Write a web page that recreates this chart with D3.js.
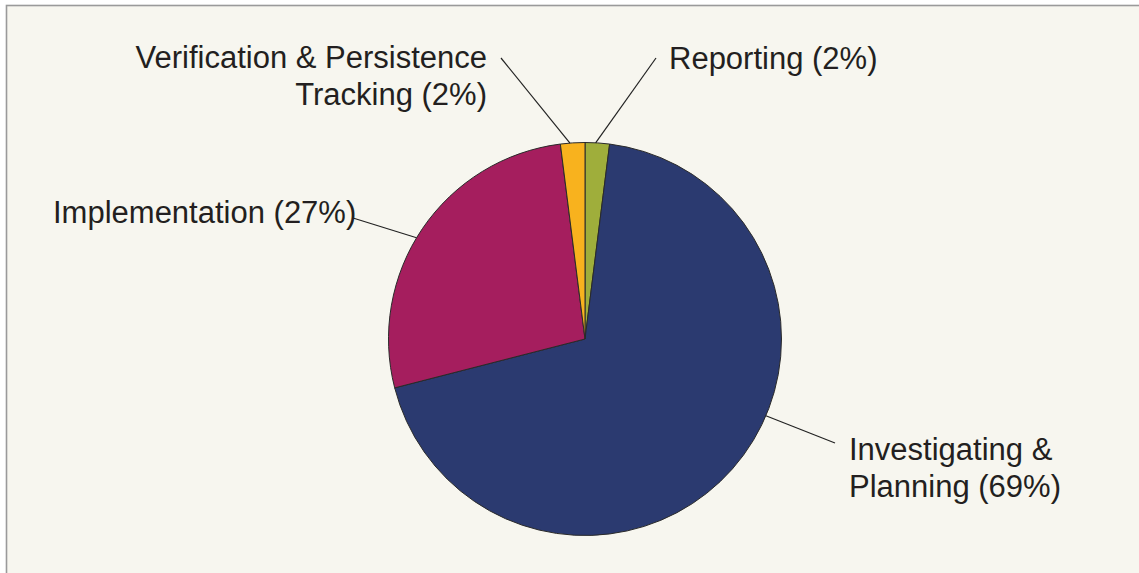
<!DOCTYPE html>
<html>
<head>
<meta charset="utf-8">
<script src="https://cdn.jsdelivr.net/npm/d3@7"></script>
<style>
  body { margin: 0; background: #fff; }
  svg { display: block; }
  .label { font-family: "Liberation Sans", Arial, Helvetica, sans-serif; }
</style>
</head>
<body>
<div id="chart"></div>
<script>
// Data
var categories = ["Reporting", "Investigating & Planning", "Implementation", "Verification & Persistence Tracking"];
var shares = [2, 69, 27, 2];
var colors = ["#9FAE3B", "#2B3A70", "#A51E5E", "#F8B21E"];

// Label text lines, per category
var labelLines = [
    ["Reporting (2%)"],
    ["Investigating &", "Planning (69%)"],
    ["Implementation (27%)"],
    ["Verification & Persistence", "Tracking (2%)"]
];

// Label layout: anchor point, alignment, leader start, leader angle on pie (deg)
var labelPos = [
    { x: 669, y: 69, anchor: "start", lx: 656, ly: 58, ang: 3.1 },
    { x: 849, y: 460, anchor: "start", lx: 835, ly: 443, ang: 113 },
    { x: 53, y: 223, anchor: "start", lx: 353, ly: 218, ang: 301 },
    { x: 487, y: 68, anchor: "end", lx: 501, ly: 58, ang: 355.6 }
];

var width = 1139, height = 573;
var cx = 585, cy = 339, radius = 196.5;

var svg = d3.select("#chart")
    .append("svg")
    .attr("width", width)
    .attr("height", height);

// Frame / background
svg.append("rect")
    .attr("x", 6.5)
    .attr("y", 5.5)
    .attr("width", width)
    .attr("height", height)
    .attr("fill", "#F7F6EF")
    .attr("stroke", "#9a9a9a")
    .attr("stroke-width", 1.6);

var g = svg.append("g")
    .attr("transform", "translate(" + cx + "," + cy + ")");

var pie = d3.pie()
    .sort(null)
    .value(function(d) { return d; });

var arc = d3.arc()
    .innerRadius(0)
    .outerRadius(radius);

var arcs = pie(shares);

g.selectAll("path.slice")
    .data(arcs)
    .enter()
    .append("path")
    .attr("class", "slice")
    .attr("d", arc)
    .attr("fill", function(d, i) { return colors[i]; })
    .attr("stroke", "#2a2a2a")
    .attr("stroke-width", 1);

// Leader lines
svg.selectAll("line.leader")
    .data(labelPos)
    .enter()
    .append("line")
    .attr("class", "leader")
    .attr("x1", function(d) { return d.lx; })
    .attr("y1", function(d) { return d.ly; })
    .attr("x2", function(d) { return cx + radius * Math.sin(d.ang * Math.PI / 180); })
    .attr("y2", function(d) { return cy - radius * Math.cos(d.ang * Math.PI / 180); })
    .attr("stroke", "#222")
    .attr("stroke-width", 1.2);

// Labels
var labels = svg.selectAll("text.label")
    .data(categories)
    .enter()
    .append("text")
    .attr("class", "label")
    .attr("font-size", "31px")
    .attr("fill", "#231F20")
    .attr("text-anchor", function(d, i) { return labelPos[i].anchor; });

labels.each(function(d, i) {
    var t = d3.select(this);
    labelLines[i].forEach(function(line, j) {
        t.append("tspan")
            .attr("x", labelPos[i].x)
            .attr("y", labelPos[i].y + j * 37)
            .text(line);
    });
});
</script>
</body>
</html>
